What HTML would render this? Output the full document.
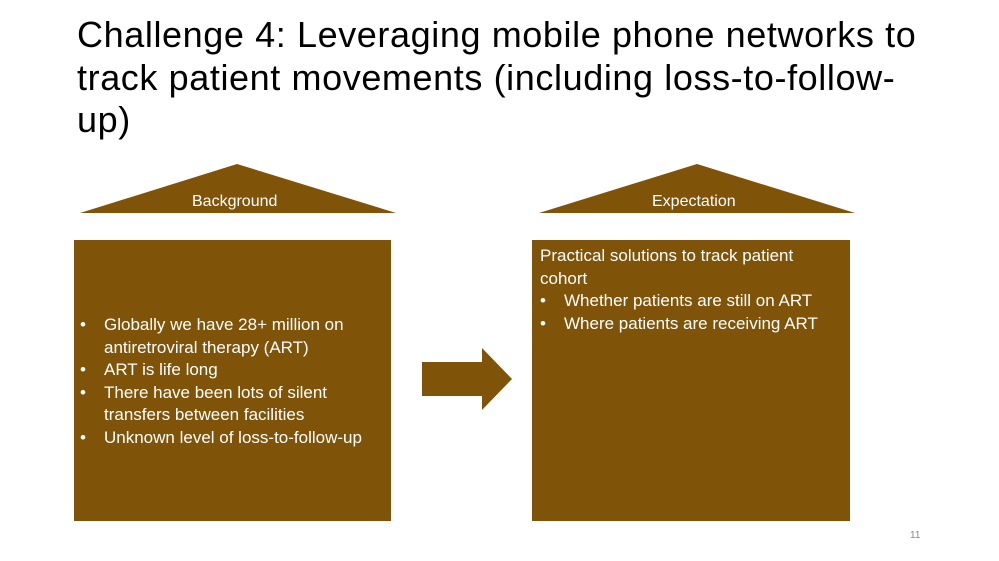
<!DOCTYPE html>
<html><head><style>
body{margin:0;width:999px;height:561px;background:#fff;position:relative;overflow:hidden;font-family:"Liberation Sans",sans-serif}
.t{position:absolute;left:77px;font-size:36px;color:#000;white-space:nowrap;letter-spacing:0.6px}
.box{position:absolute;background:#7F5308;color:#fff;font-size:17px;line-height:22.5px}
.b{position:absolute;color:#fff;font-size:16px;white-space:nowrap}
ul{margin:0;padding:0;list-style:none}
li{position:relative;padding-left:30px;white-space:nowrap}
li:before{content:"•";position:absolute;left:6px}
</style></head><body>
<div class="t" style="top:14px">Challenge 4: Leveraging mobile phone networks to</div>
<div class="t" style="top:57px">track patient movements (including loss-to-follow-</div>
<div class="t" style="top:99px">up)</div>
<svg style="position:absolute;left:0;top:0" width="999" height="561">
<polygon points="237,164 396,213 80,213" fill="#7F5308"/>
<polygon points="697,164 855,213 539,213" fill="#7F5308"/>
<polygon points="422,362 482,362 482,348 512,379 482,410 482,396 422,396" fill="#7F5308"/>
</svg>
<div class="b" style="left:192px;top:193px">Background</div>
<div class="b" style="left:652px;top:193px">Expectation</div>
<div class="box" style="left:74px;top:240px;width:317px;height:281px">
<ul style="position:absolute;left:0px;top:74px;width:300px">
<li>Globally we have 28+ million on<br>antiretroviral therapy (ART)</li>
<li>ART is life long</li>
<li>There have been lots of silent<br>transfers between facilities</li>
<li>Unknown level of loss-to-follow-up</li>
</ul></div>
<div class="box" style="left:532px;top:240px;width:318px;height:281px">
<div style="position:absolute;left:8px;top:5px;width:300px">Practical solutions to track patient<br>cohort
<ul style="margin-left:-6px"><li>Whether patients are still on ART</li><li>Where patients are receiving ART</li></ul></div>
</div>
<div style="position:absolute;left:910px;top:530px;font-size:10px;color:#888">11</div>
</body></html>
